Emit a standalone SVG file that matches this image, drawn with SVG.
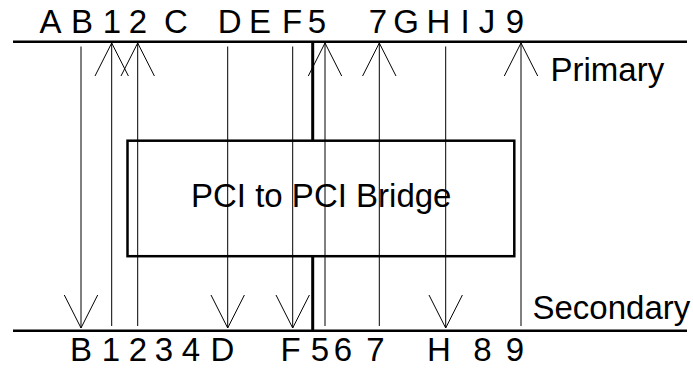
<svg xmlns="http://www.w3.org/2000/svg" width="693" height="368" viewBox="0 0 693 368">
<style>
text{font-family:"Liberation Sans",Arial,sans-serif;font-size:33px;fill:#000}
.lab{text-anchor:middle}
.bus{stroke:#000;stroke-width:2.5;fill:none}
.sig{stroke:#000;stroke-width:1;fill:none}
.thick{stroke:#000;stroke-width:3;fill:none}
.box{stroke:#000;stroke-width:2.5;fill:none}
</style>
<defs>
<path id="up" class="sig" d="M-16.7,76 L0,43 L16.7,76"/>
<path id="dn" class="sig" d="M-16.7,295 L0,328 L16.7,295"/>
</defs>
<g id="primary-bus">
<line class="bus" x1="13" y1="41.7" x2="687" y2="41.7"/>
<text x="550.5" y="81">Primary</text>
</g>
<g id="secondary-bus">
<line class="bus" x1="13" y1="330.7" x2="687" y2="330.7"/>
<text x="532.5" y="319">Secondary</text>
</g>
<g id="bridge">
<rect class="box" x="127.5" y="140.7" width="386.8" height="115.5"/>
<text x="191" y="207">PCI to PCI Bridge</text>
</g>
<g id="top-labels" class="lab">
<text x="50.5" y="33">A</text>
<text x="82" y="33">B</text>
<text x="112" y="33">1</text>
<text x="138" y="33">2</text>
<text x="176" y="33">C</text>
<text x="229.7" y="33">D</text>
<text x="260" y="33">E</text>
<text x="292" y="33">F</text>
<text x="317" y="33">5</text>
<text x="378" y="33">7</text>
<text x="406" y="33">G</text>
<text x="438.5" y="33">H</text>
<text x="465" y="33">I</text>
<text x="487" y="33">J</text>
<text x="515" y="33">9</text>
</g>
<g id="bottom-labels" class="lab">
<text x="81" y="361">B</text>
<text x="111" y="361">1</text>
<text x="138" y="361">2</text>
<text x="164" y="361">3</text>
<text x="191" y="361">4</text>
<text x="222.5" y="361">D</text>
<text x="290.5" y="361">F</text>
<text x="320" y="361">5</text>
<text x="343" y="361">6</text>
<text x="375.5" y="361">7</text>
<text x="439" y="361">H</text>
<text x="482.5" y="361">8</text>
<text x="515" y="361">9</text>
</g>
<g id="connectors">
<line class="thick" x1="312.7" y1="41.7" x2="312.7" y2="140.7"/>
<line class="thick" x1="312.7" y1="256.2" x2="312.7" y2="330.7"/>
<line class="sig" x1="81" y1="46.5" x2="81" y2="328"/>
<use href="#dn" x="81"/>
<line class="sig" x1="111.7" y1="43" x2="111.7" y2="326"/>
<use href="#up" x="111.7"/>
<line class="sig" x1="137.7" y1="43" x2="137.7" y2="326"/>
<use href="#up" x="137.7"/>
<line class="sig" x1="227.7" y1="46.5" x2="227.7" y2="328"/>
<use href="#dn" x="227.7"/>
<line class="sig" x1="292.7" y1="46.5" x2="292.7" y2="328"/>
<use href="#dn" x="292.7"/>
<line class="sig" x1="325" y1="43" x2="325" y2="326"/>
<use href="#up" x="325"/>
<line class="sig" x1="379.3" y1="43" x2="379.3" y2="326"/>
<use href="#up" x="379.3"/>
<line class="sig" x1="445.7" y1="46.5" x2="445.7" y2="328"/>
<use href="#dn" x="445.7"/>
<line class="sig" x1="521" y1="43" x2="521" y2="326"/>
<use href="#up" x="521"/>
</g>
</svg>
